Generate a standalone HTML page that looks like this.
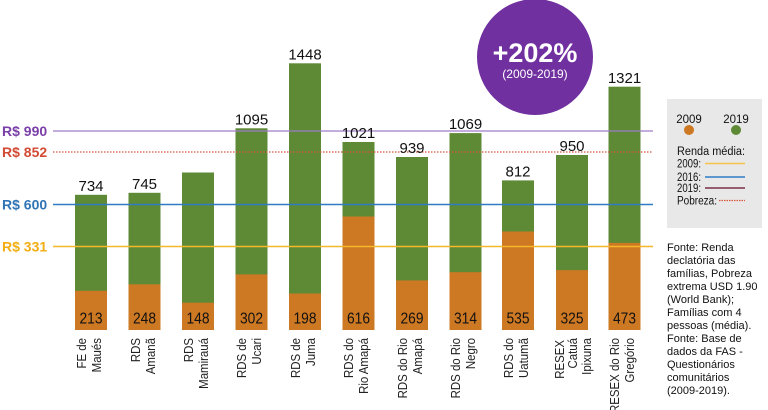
<!DOCTYPE html>
<html><head><meta charset="utf-8"><style>
html,body{margin:0;padding:0;background:#fff;}
svg{display:block;}
text{font-family:"Liberation Sans",sans-serif;}
</style></head><body>
<svg width="768" height="410" viewBox="0 0 768 410" xmlns="http://www.w3.org/2000/svg">
<!-- bars -->
<g>
<rect x="75" y="194.8" width="32" height="135.2" fill="#5e8a35"/>
<rect x="75" y="290.8" width="32" height="39.2" fill="#cd7823"/>
<rect x="128.5" y="192.8" width="32" height="137.2" fill="#5e8a35"/>
<rect x="128.5" y="284.3" width="32" height="45.7" fill="#cd7823"/>
<rect x="182" y="172.5" width="32" height="157.5" fill="#5e8a35"/>
<rect x="182" y="302.7" width="32" height="27.3" fill="#cd7823"/>
<rect x="235.5" y="128.3" width="32" height="201.7" fill="#5e8a35"/>
<rect x="235.5" y="274.4" width="32" height="55.6" fill="#cd7823"/>
<rect x="289" y="63.3" width="32" height="266.7" fill="#5e8a35"/>
<rect x="289" y="293.5" width="32" height="36.5" fill="#cd7823"/>
<rect x="342.5" y="142" width="32" height="188" fill="#5e8a35"/>
<rect x="342.5" y="216.5" width="32" height="113.5" fill="#cd7823"/>
<rect x="396" y="157" width="32" height="173" fill="#5e8a35"/>
<rect x="396" y="280.4" width="32" height="49.6" fill="#cd7823"/>
<rect x="449.5" y="133.1" width="32" height="196.9" fill="#5e8a35"/>
<rect x="449.5" y="272.2" width="32" height="57.8" fill="#cd7823"/>
<rect x="502" y="180.4" width="32" height="149.6" fill="#5e8a35"/>
<rect x="502" y="231.5" width="32" height="98.5" fill="#cd7823"/>
<rect x="556" y="155" width="32" height="175" fill="#5e8a35"/>
<rect x="556" y="270.1" width="32" height="59.9" fill="#cd7823"/>
<rect x="608.5" y="86.7" width="32" height="243.3" fill="#5e8a35"/>
<rect x="608.5" y="242.9" width="32" height="87.1" fill="#cd7823"/>
</g>
<!-- reference lines -->
<line x1="53" y1="131" x2="653" y2="131" stroke="#9d7cc6" stroke-width="1.3"/>
<line x1="53" y1="152" x2="653" y2="152" stroke="#d9553a" stroke-width="1.2" stroke-dasharray="1.5,1.5"/>
<line x1="53" y1="204.5" x2="653" y2="204.5" stroke="#2f7cc4" stroke-width="1.6"/>
<line x1="53" y1="246.5" x2="653" y2="246.5" stroke="#f5b82a" stroke-width="1.6"/>
<!-- left labels -->
<g font-weight="bold" font-size="14">
<text x="2" y="136" fill="#7a3fa8">R$ 990</text>
<text x="2" y="157" fill="#d24a33">R$ 852</text>
<text x="2" y="209.5" fill="#2f74b5">R$ 600</text>
<text x="2" y="251.5" fill="#f2ad12">R$ 331</text>
</g>
<!-- top value labels -->
<g font-size="15" fill="#111" text-anchor="middle">
<text x="91" y="191">734</text>
<text x="144.5" y="189">745</text>
<text x="251.5" y="124.5">1095</text>
<text x="305" y="59.5">1448</text>
<text x="358.5" y="138">1021</text>
<text x="412" y="153">939</text>
<text x="465.5" y="129">1069</text>
<text x="518" y="176.5">812</text>
<text x="572" y="151">950</text>
<text x="624.5" y="83">1321</text>
</g>
<!-- inner labels -->
<g font-size="16" fill="#111" text-anchor="middle">
<text x="91" y="323.5" textLength="23" lengthAdjust="spacingAndGlyphs">213</text>
<text x="144.5" y="323.5" textLength="23" lengthAdjust="spacingAndGlyphs">248</text>
<text x="198" y="323.5" textLength="23" lengthAdjust="spacingAndGlyphs">148</text>
<text x="251.5" y="323.5" textLength="23" lengthAdjust="spacingAndGlyphs">302</text>
<text x="305" y="323.5" textLength="23" lengthAdjust="spacingAndGlyphs">198</text>
<text x="358.5" y="323.5" textLength="23" lengthAdjust="spacingAndGlyphs">616</text>
<text x="412" y="323.5" textLength="23" lengthAdjust="spacingAndGlyphs">269</text>
<text x="465.5" y="323.5" textLength="23" lengthAdjust="spacingAndGlyphs">314</text>
<text x="518" y="323.5" textLength="23" lengthAdjust="spacingAndGlyphs">535</text>
<text x="572" y="323.5" textLength="23" lengthAdjust="spacingAndGlyphs">325</text>
<text x="624.5" y="323.5" textLength="23" lengthAdjust="spacingAndGlyphs">473</text>
</g>
<!-- category labels (rotated) -->
<g font-size="13" fill="#222" text-anchor="end">
<text transform="translate(86,338) rotate(-90) scale(0.88,1)">FE de</text>
<text transform="translate(101,338) rotate(-90) scale(0.88,1)">Maués</text>
<text transform="translate(140,338) rotate(-90) scale(0.88,1)">RDS</text>
<text transform="translate(155,338) rotate(-90) scale(0.88,1)">Amanã</text>
<text transform="translate(193,338) rotate(-90) scale(0.88,1)">RDS</text>
<text transform="translate(208,338) rotate(-90) scale(0.88,1)">Mamirauá</text>
<text transform="translate(246,338) rotate(-90) scale(0.88,1)">RDS de</text>
<text transform="translate(261,338) rotate(-90) scale(0.88,1)">Ucari</text>
<text transform="translate(300,338) rotate(-90) scale(0.88,1)">RDS de</text>
<text transform="translate(315,338) rotate(-90) scale(0.88,1)">Juma</text>
<text transform="translate(353,338) rotate(-90) scale(0.88,1)">RDS do</text>
<text transform="translate(368,338) rotate(-90) scale(0.88,1)">Rio Amapá</text>
<text transform="translate(407,338) rotate(-90) scale(0.88,1)">RDS do Rio</text>
<text transform="translate(422,338) rotate(-90) scale(0.88,1)">Amapá</text>
<text transform="translate(460,338) rotate(-90) scale(0.88,1)">RDS do Rio</text>
<text transform="translate(475,338) rotate(-90) scale(0.88,1)">Negro</text>
<text transform="translate(513,338) rotate(-90) scale(0.88,1)">RDS do</text>
<text transform="translate(528,338) rotate(-90) scale(0.88,1)">Uatumã</text>
<text transform="translate(564,340) rotate(-90) scale(0.88,1)">RESEX</text>
<text transform="translate(577,338) rotate(-90) scale(0.88,1)">Catuá</text>
<text transform="translate(591,338) rotate(-90) scale(0.88,1)">Ipixuna</text>
<text transform="translate(619,338) rotate(-90) scale(0.88,1)">RESEX do Rio</text>
<text transform="translate(634,338) rotate(-90) scale(0.88,1)">Gregório</text>
</g>
<!-- circle -->
<circle cx="535" cy="57" r="58" fill="#7030a0"/>
<text x="535" y="62" font-size="27" font-weight="bold" fill="#fff" text-anchor="middle">+202%</text>
<text x="535" y="78" font-size="12" fill="#fff" text-anchor="middle">(2009-2019)</text>
<!-- legend box -->
<rect x="667" y="99" width="95" height="129" fill="#e8e8e8"/>
<g font-size="11.5" fill="#111">
<text x="689" y="123" text-anchor="middle">2009</text>
<text x="736" y="123" text-anchor="middle">2019</text>
<circle cx="689" cy="130" r="5" fill="#cd7823"/>
<circle cx="736" cy="130" r="5" fill="#5e8a35"/>
<text x="677" y="155" textLength="68" lengthAdjust="spacingAndGlyphs">Renda média:</text>
<text x="677" y="167.5" textLength="24" lengthAdjust="spacingAndGlyphs">2009:</text>
<text x="677" y="181" textLength="24" lengthAdjust="spacingAndGlyphs">2016:</text>
<text x="677" y="192" textLength="24" lengthAdjust="spacingAndGlyphs">2019:</text>
<text x="677" y="204.5" textLength="40" lengthAdjust="spacingAndGlyphs">Pobreza:</text>
</g>
<line x1="705" y1="163.5" x2="745" y2="163.5" stroke="#f5c24a" stroke-width="1.6"/>
<line x1="705" y1="177" x2="745" y2="177" stroke="#2f7cc4" stroke-width="1.6"/>
<line x1="705" y1="188" x2="745" y2="188" stroke="#7b2d4a" stroke-width="1.6"/>
<line x1="719" y1="200.5" x2="745" y2="200.5" stroke="#d9553a" stroke-width="1.2" stroke-dasharray="1.5,1"/>
<!-- source text -->
<g font-size="11" fill="#111">
<text x="667" y="251">Fonte: Renda</text>
<text x="667" y="264">declatória das</text>
<text x="667" y="277">famílias, Pobreza</text>
<text x="667" y="290">extrema USD 1.90</text>
<text x="667" y="303">(World Bank);</text>
<text x="667" y="316">Famílias com 4</text>
<text x="667" y="329">pessoas (média).</text>
<text x="667" y="342">Fonte: Base de</text>
<text x="667" y="355">dados da FAS -</text>
<text x="667" y="368">Questionários</text>
<text x="667" y="381">comunitários</text>
<text x="667" y="394">(2009-2019).</text>
</g>
</svg>
</body></html>
